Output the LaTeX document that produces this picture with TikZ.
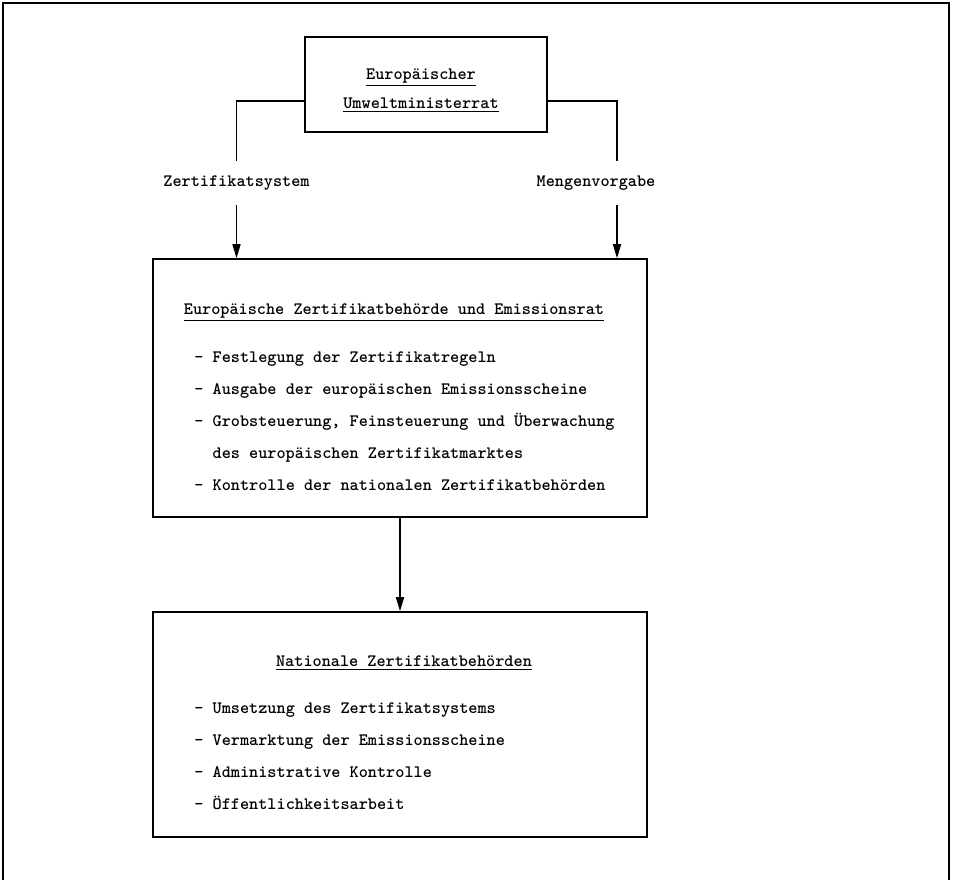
\documentclass[tikz,border=0pt]{standalone}
\usepackage{fontspec}
\usepackage{tikz}
\usetikzlibrary{positioning,arrows.meta}

\begin{document}
\begin{tikzpicture}[
    x=0.5pt, y=-0.5pt,
    every node/.style={font=\ttfamily\bfseries\fontsize{8.7}{16}\selectfont},
    box/.style={rectangle, draw=black, line width=0.8pt, inner sep=0pt},
    title/.style={anchor=base, inner sep=0pt},
    item/.style={anchor=base west, inner sep=0pt},
    flowlabel/.style={inner sep=0pt, minimum height=22pt},
    link/.style={line width=0.8pt},
    arrow/.style={-{Triangle[length=7pt, width=4pt]}, line width=0.8pt},
]

% === FRAME (open at the bottom) ===
\useasboundingbox (0,0) rectangle (953,880);
\draw[line width=1pt] (3,880) -- (3,3) -- (949,3) -- (949,880);

% === BOXES ===
\node[box, minimum width=121pt, minimum height=47.5pt] (minister) at (426,84.5) {};
\node[box, minimum width=247pt, minimum height=129pt]  (zbeh)     at (400,388)  {};
\node[box, minimum width=247pt, minimum height=112.5pt] (nat)     at (400,724.5) {};

% --- top box text ---
\node[title] (ministerA) at (421,79)  {\underline{Europäischer}};
\node[title] (ministerB) at (421,108) {\underline{Umweltministerrat}};

% --- middle box text ---
\node[title] (zbehtitle) at (394,314) {\underline{Europäische Zertifikatbehörde und Emissionsrat}};
\foreach \txt [count=\i from 0] in {%
    - Festlegung der Zertifikatregeln,
    - Ausgabe der europäischen Emissionsscheine,
    {- Grobsteuerung, Feinsteuerung und Überwachung},
    \hphantom{- }des europäischen Zertifikatmarktes,
    - Kontrolle der nationalen Zertifikatbehörden}
  \node[item] (zbehitem\i) at (194,362+32*\i) {\txt};

% --- bottom box text ---
\node[title] (nattitle) at (404,666) {\underline{Nationale Zertifikatbehörden}};
\foreach \txt [count=\i from 0] in {%
    - Umsetzung des Zertifikatsystems,
    - Vermarktung der Emissionsscheine,
    - Administrative Kontrolle,
    - Öffentlichkeitsarbeit}
  \node[item] (natitem\i) at (194,713+32.3*\i) {\txt};

% === FLOW LABELS ===
\node[flowlabel] (zs) at (236.5,183) {Zertifikatsystem};
\node[flowlabel] (mv) at (596,183)   {Mengenvorgabe};

\coordinate (zsknee) at (236.5,101);
\coordinate (mvknee) at (617,101);

% === CONNECTORS ===
\draw[link]  (minister.west |- zsknee) -| (zs.north);
\draw[arrow] (zs.south) -- (zbeh.north -| zs.south);

\draw[link]  (minister.east |- mvknee) -| (mv.north -| mvknee);
\draw[arrow] (mv.south -| mvknee) -- (zbeh.north -| mvknee);

\draw[arrow] (zbeh) -- (nat);

\end{tikzpicture}
\end{document}
